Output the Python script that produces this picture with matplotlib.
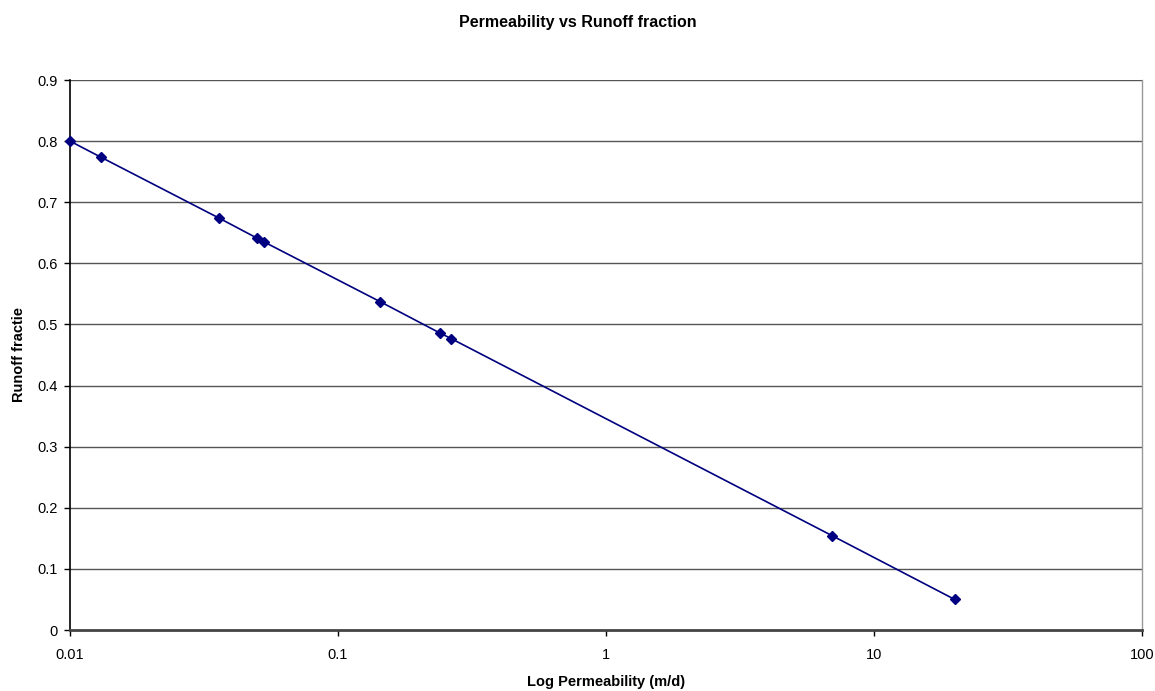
import matplotlib
matplotlib.use("Agg")
import matplotlib.pyplot as plt
from matplotlib.ticker import FixedLocator, FixedFormatter, NullLocator

plt.rcParams['font.family'] = ['Liberation Sans', 'DejaVu Sans']

permeability = [0.01, 0.013, 0.036, 0.05, 0.053, 0.144, 0.24, 0.264, 7.0, 20.0]
runoff = [0.800, 0.774, 0.674, 0.641, 0.635, 0.537, 0.486, 0.477, 0.154, 0.050]

x_ticks = [0.01, 0.1, 1, 10, 100]
x_tick_labels = ["0.01", "0.1", "1", "10", "100"]
y_ticks = [0, 0.1, 0.2, 0.3, 0.4, 0.5, 0.6, 0.7, 0.8, 0.9]
y_tick_labels = ["0", "0.1", "0.2", "0.3", "0.4", "0.5", "0.6", "0.7", "0.8", "0.9"]

fig = plt.figure(figsize=(11.55, 6.91), dpi=100)
ax = fig.add_axes([70/1155, 61/691, (1142-70)/1155, (630-80)/691])

ax.set_xscale('log')
ax.set_xlim(0.01, 100)
ax.set_ylim(0, 0.9)

for yv in y_ticks[1:]:
    ax.axhline(yv, color='#555555', lw=1.0, zorder=1)

ax.plot(permeability, runoff, color='#000080', lw=1.2, marker='D', ms=5.5,
        markerfacecolor='#000080', markeredgecolor='#000080', zorder=3, clip_on=False)

ax.xaxis.set_major_locator(FixedLocator(x_ticks))
ax.xaxis.set_major_formatter(FixedFormatter(x_tick_labels))
ax.xaxis.set_minor_locator(NullLocator())
ax.yaxis.set_major_locator(FixedLocator(y_ticks))
ax.yaxis.set_major_formatter(FixedFormatter(y_tick_labels))

ax.tick_params(axis='both', direction='out', length=4, width=1, labelsize=10.5, colors='#000000')
ax.tick_params(axis='x', pad=9)
ax.tick_params(axis='y', pad=5)

ax.spines['left'].set_color('#000000')
ax.spines['left'].set_linewidth(1.2)
ax.spines['bottom'].set_color('#444444')
ax.spines['bottom'].set_linewidth(2)
ax.spines['right'].set_color('#999999')
ax.spines['right'].set_linewidth(1)
ax.spines['top'].set_visible(False)

ax.set_ylabel('Runoff fractie', fontsize=10.5, fontweight='bold', labelpad=8)
fig.text((70 + 1142) / 2 / 1155, 1 - 682/691, 'Log Permeability (m/d)', fontsize=10.5,
         fontweight='bold', ha='center', va='center')
fig.suptitle('Permeability vs Runoff fraction', fontsize=11.5, fontweight='bold', y=1 - 22/691, va='center')

fig.savefig('out.png', dpi=100)
